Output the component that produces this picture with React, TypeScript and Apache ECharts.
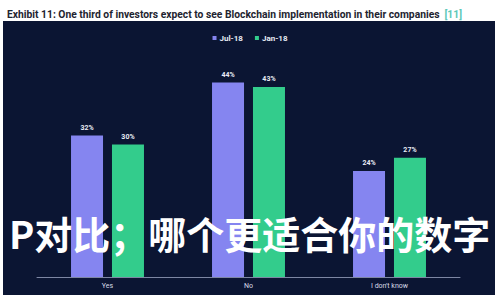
import React, { useEffect, useRef } from "react";
import * as echarts from "echarts";

const categories = ["Yes", "No", "I don't know"];
const seriesNames = ["Jul-18", "Jan-18"];
const jul18 = [32, 44, 24];
const jan18 = [30, 43, 27];
const titleText = "Exhibit 11: One third of investors expect to see Blockchain implementation in their companies";
const titleRef = "[11]";
const overlayText = "P对比；哪个更适合你的数字";

export default function App() {
  const ref = useRef<HTMLDivElement>(null);
  useEffect(() => {
    if (!ref.current) return;
    const chart = echarts.init(ref.current, undefined, { renderer: "svg" });
    const labelCfg = {
      show: true,
      position: "top" as const,
      distance: 4,
      color: "#e8ecf5",
      fontSize: 7,
      fontWeight: "bold" as const,
      fontFamily: "Roboto, sans-serif",
      formatter: "{c}%",
    };
    chart.setOption({
      animation: false,
      backgroundColor: "#ffffff",
      title: {
        text: "{t|" + titleText + "} {r|" + titleRef + "}",
        left: 2,
        top: 0,
        textStyle: {
          rich: {
            t: { fontSize: 10.3, fontWeight: "bold", color: "#1e2430", fontFamily: "Roboto, sans-serif" },
            r: { fontSize: 10.3, color: "#5cc8b8", fontFamily: "Roboto, sans-serif" },
          },
        },
      },
      graphic: [
        {
          type: "rect",
          z: -10,
          shape: { x: 3, y: 21, width: 492, height: 274 },
          style: { fill: "#0b1533" },
        },
        {
          type: "text",
          z: 100,
          x: 9,
          y: 232,
          style: {
            text: overlayText,
            fill: "#ffffff",
            fontSize: 38,
            fontWeight: "bold",
            fontFamily: "'Noto Sans CJK SC', sans-serif",
            verticalAlign: "middle",
            textAlign: "left",
          },
        },
      ],
      legend: {
        data: seriesNames,
        top: 29,
        left: "center",
        itemWidth: 4,
        itemHeight: 4,
        itemGap: 12,
        icon: "rect",
        textStyle: { color: "#e8ecf5", fontSize: 8, fontWeight: "bold", fontFamily: "Roboto, sans-serif", padding: [0, 0, 0, -2] },
      },
      grid: { left: 37, right: 40, top: 56, bottom: 23 },
      xAxis: {
        type: "category",
        data: categories,
        axisLine: { lineStyle: { color: "#7d86a3", width: 1 } },
        axisTick: { show: false },
        axisLabel: { color: "#d8dce8", fontSize: 7, margin: 5, fontFamily: "Roboto, sans-serif" },
      },
      yAxis: {
        type: "value",
        min: 0,
        max: 50,
        show: false,
        splitLine: { show: false },
      },
      series: [
        {
          name: seriesNames[0],
          type: "bar",
          data: jul18,
          barWidth: 32,
          barGap: "28%",
          itemStyle: { color: "#8585f0" },
          label: labelCfg,
        },
        {
          name: seriesNames[1],
          type: "bar",
          data: jan18,
          barWidth: 32,
          barGap: "28%",
          itemStyle: { color: "#33cc8c" },
          label: labelCfg,
        },
      ],
    });
    return () => chart.dispose();
  }, []);
  return <div ref={ref} style={{ width: 500, height: 300, position: "absolute", left: 0, top: 0 }} />;
}
